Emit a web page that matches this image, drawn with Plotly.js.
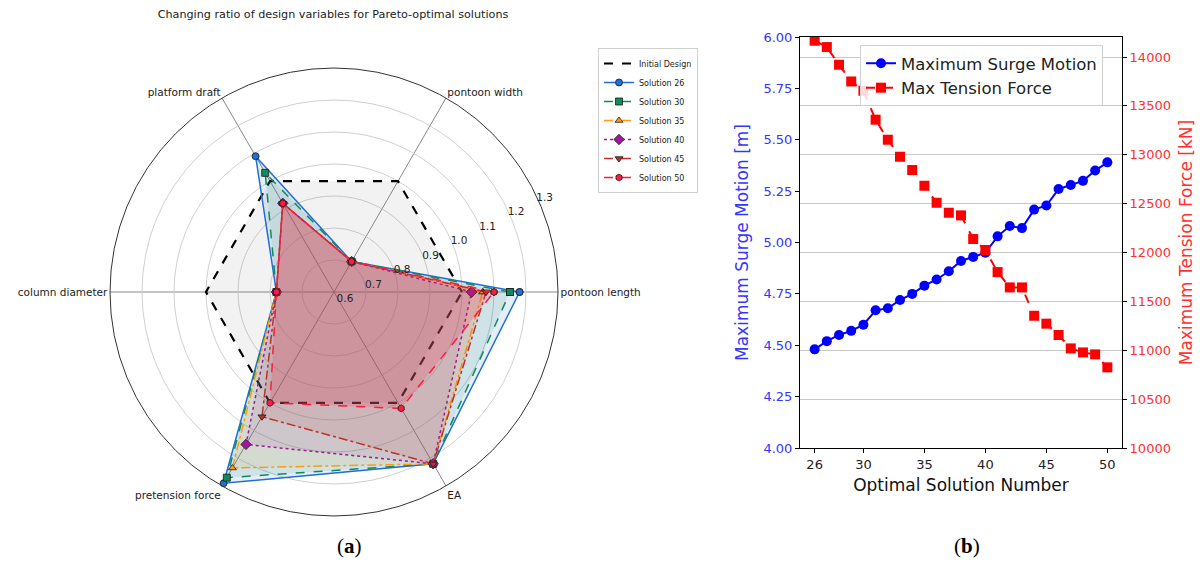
<!DOCTYPE html>
<html>
<head>
<meta charset="utf-8">
<script src="https://cdn.plot.ly/plotly-3.0.1.min.js"></script>
<style>
  html, body { margin: 0; padding: 0; background: #ffffff; }
  #chart { width: 1202px; height: 562px; }
</style>
</head>
<body>
<div id="chart"></div>
<script>
// ---- (a) design-variable ratios for the Pareto-optimal solutions ----
const variables = ['pontoon length', 'pontoon width', 'platform draft',
                   'column diameter', 'pretension force', 'EA'];
const radialTicks = [0.6, 0.7, 0.8, 0.9, 1.0, 1.1, 1.2, 1.3];

const initialDesign = [1.00, 1.00, 1.00, 1.00, 1.00, 1.00];
const solution26    = [1.18, 0.71, 1.09, 0.78, 1.29, 1.22];
const solution30    = [1.15, 0.71, 1.03, 0.78, 1.27, 1.22];
const solution35    = [1.065, 0.71, 0.92, 0.78, 1.235, 1.22];
const solution40    = [1.03, 0.71, 0.92, 0.78, 1.15, 1.22];
const solution45    = [1.075, 0.71, 0.92, 0.78, 1.05, 1.22];
const solution50    = [1.10, 0.71, 0.92, 0.78, 1.00, 1.02];

// ---- (b) surge motion and tension force per optimal solution ----
const solutionNumbers = [26, 27, 28, 29, 30, 31, 32, 33, 34, 35, 36, 37, 38,
                         39, 40, 41, 42, 43, 44, 45, 46, 47, 48, 49, 50];
const surgeMotion = [4.48, 4.52, 4.55, 4.57, 4.60, 4.67, 4.68, 4.72, 4.75, 4.79,
                     4.82, 4.86, 4.91, 4.93, 4.95, 5.03, 5.08, 5.07, 5.16, 5.18,
                     5.26, 5.28, 5.30, 5.35, 5.39];
const tensionForce = [14167, 14102, 13921, 13750, 13655, 13359, 13154, 12980, 12844,
                      12683, 12509, 12407, 12380, 12138, 12026, 11800, 11643, 11643,
                      11353, 11272, 11156, 11019, 10978, 10958, 10825];
const surgeTicks = [4.00, 4.25, 4.50, 4.75, 5.00, 5.25, 5.50, 5.75, 6.00];
const tensionTicks = [10000, 10500, 11000, 11500, 12000, 12500, 13000, 13500, 14000];
const numberTicks = [26, 30, 35, 40, 45, 50];

const FONT = 'DejaVu Sans, sans-serif';

function closeLoop(arr) { return arr.concat([arr[0]]); }

// Each series is drawn as a translucent filled polygon plus its outline with markers;
// only the outline goes into the legend.
function radarSeries(name, values, color, fill, dash, symbol, size) {
  const area = {
    type: 'scatterpolar',
    name: name,
    r: closeLoop(values),
    theta: closeLoop(variables),
    mode: 'none',
    fill: 'toself',
    fillcolor: fill,
    showlegend: false,
    hoverinfo: 'skip'
  };
  const outline = {
    type: 'scatterpolar',
    name: name,
    r: closeLoop(values),
    theta: closeLoop(variables),
    mode: symbol ? 'lines+markers' : 'lines',
    line: { color: color, width: symbol ? 1.5 : 2.2, dash: dash },
    legend: 'legend',
    hoverinfo: 'name+r+theta'
  };
  if (symbol) {
    outline.marker = { symbol: symbol, size: size, color: color,
                       line: { color: '#1a1a1a', width: 0.8 } };
  }
  return [area, outline];
}

const traces = [].concat(
  radarSeries('Initial Design', initialDesign, '#000000', 'rgba(128,128,128,0.10)', 'dash', null, 0),
  radarSeries('Solution 26', solution26, '#1f6fd6', 'rgba(31,119,200,0.12)', 'solid', 'circle', 7),
  radarSeries('Solution 30', solution30, '#12895a', 'rgba(18,137,90,0.10)', 'dash', 'square', 7),
  radarSeries('Solution 35', solution35, '#ff9a10', 'rgba(255,154,16,0.10)', 'dashdot', 'triangle-up', 7),
  radarSeries('Solution 40', solution40, '#a0189a', 'rgba(160,24,154,0.10)', 'dot', 'diamond', 8),
  radarSeries('Solution 45', solution45, '#c0302a', 'rgba(192,48,42,0.10)', 'dashdot', 'triangle-down', 7),
  radarSeries('Solution 50', solution50, '#ff1a40', 'rgba(255,26,64,0.18)', 'dash', 'hexagon', 7),
  [
    {
      type: 'scatter',
      name: 'Maximum Surge Motion',
      x: solutionNumbers,
      y: surgeMotion,
      xaxis: 'x', yaxis: 'y',
      mode: 'lines+markers',
      line: { color: '#0000ff', width: 2 },
      marker: { symbol: 'circle', size: 10, color: '#0000ff' },
      legend: 'legend2'
    },
    {
      type: 'scatter',
      name: 'Max Tension Force',
      x: solutionNumbers,
      y: tensionForce,
      xaxis: 'x', yaxis: 'y2',
      mode: 'lines+markers',
      line: { color: '#ff0000', width: 2, dash: 'dash' },
      marker: { symbol: 'square', size: 10, color: '#ff0000' },
      legend: 'legend2'
    }
  ]
);

const layout = {
  width: 1202,
  height: 562,
  margin: { l: 0, r: 0, t: 0, b: 0 },
  paper_bgcolor: '#ffffff',
  plot_bgcolor: '#ffffff',
  font: { family: FONT, color: '#222222', size: 11 },
  showlegend: true,
  title: {
    text: 'Changing ratio of design variables for Pareto-optimal solutions',
    x: 333 / 1202, xanchor: 'center',
    y: 1 - 14 / 562, yanchor: 'middle',
    font: { family: FONT, size: 11.2, color: '#222222' }
  },
  polar: {
    domain: { x: [110 / 1202, 558 / 1202], y: [1 - 516 / 562, 1 - 68 / 562] },
    bgcolor: '#ffffff',
    radialaxis: {
      range: [0.6, 1.3],
      tickvals: radialTicks,
      ticktext: radialTicks.map(v => v.toFixed(1)),
      angle: 27,
      side: 'clockwise',
      tickangle: 27,
      showline: false,
      ticks: '',
      gridcolor: '#d0d0d0',
      gridwidth: 1,
      tickfont: { family: FONT, size: 10.5, color: '#222222' }
    },
    angularaxis: {
      rotation: 0,
      direction: 'counterclockwise',
      categoryorder: 'array',
      categoryarray: variables,
      gridcolor: '#6a6a6a',
      gridwidth: 0.8,
      linecolor: '#333333',
      linewidth: 1,
      ticks: '',
      tickfont: { family: FONT, size: 10.5, color: '#222222' }
    }
  },
  legend: {
    x: 598 / 1202, y: 1 - 48 / 562,
    xanchor: 'left', yanchor: 'top',
    bgcolor: '#ffffff',
    bordercolor: '#d0d0d0',
    borderwidth: 1,
    font: { family: FONT, size: 8, color: '#222222' },
    tracegroupgap: 0
  },
  legend2: {
    x: 860 / 1202, y: 1 - 45 / 562,
    xanchor: 'left', yanchor: 'top',
    bgcolor: 'rgba(255,255,255,0.85)',
    bordercolor: '#d0d0d0',
    borderwidth: 1,
    font: { family: FONT, size: 16.5, color: '#222222' }
  },
  xaxis: {
    domain: [800 / 1202, 1122 / 1202],
    anchor: 'y',
    range: [24.8, 51.2],
    tickvals: numberTicks,
    showgrid: false,
    zeroline: false,
    showline: true,
    linecolor: '#000000',
    linewidth: 1,
    mirror: true,
    ticks: 'outside',
    ticklen: 4,
    tickcolor: '#000000',
    tickfont: { family: FONT, size: 13, color: '#222222' },
    title: { text: 'Optimal Solution Number', standoff: 8,
             font: { family: FONT, size: 17, color: '#111111' } }
  },
  yaxis: {
    domain: [1 - 448 / 562, 1 - 37 / 562],
    anchor: 'x',
    range: [4, 6],
    tickvals: surgeTicks,
    tickformat: '.2f',
    showgrid: false,
    zeroline: false,
    showline: true,
    linecolor: '#000000',
    linewidth: 1,
    ticks: 'outside',
    ticklen: 4,
    tickcolor: '#000000',
    tickfont: { family: FONT, size: 13, color: '#3535ff' },
    title: { text: 'Maximum Surge Motion [m]', standoff: 10,
             font: { family: FONT, size: 17, color: '#3535ff' } }
  },
  yaxis2: {
    overlaying: 'y',
    side: 'right',
    anchor: 'x',
    range: [10000, 14205],
    tickvals: tensionTicks,
    tickformat: 'd',
    showgrid: true,
    gridcolor: '#c8c8c8',
    gridwidth: 1,
    zeroline: false,
    showline: true,
    linecolor: '#000000',
    linewidth: 1,
    ticks: 'outside',
    ticklen: 4,
    tickcolor: '#000000',
    tickfont: { family: FONT, size: 13, color: '#ff3030' },
    title: { text: 'Maximum Tension Force [kN]', standoff: 10,
             font: { family: FONT, size: 17, color: '#ff3030' } }
  },
  annotations: [
    { text: '(<b>a</b>)', x: 349 / 1202, y: 1 - 546 / 562, xref: 'paper', yref: 'paper',
      xanchor: 'center', yanchor: 'middle', showarrow: false,
      font: { family: 'Liberation Serif, serif', size: 21, color: '#000000' } },
    { text: '(<b>b</b>)', x: 967 / 1202, y: 1 - 546 / 562, xref: 'paper', yref: 'paper',
      xanchor: 'center', yanchor: 'middle', showarrow: false,
      font: { family: 'Liberation Serif, serif', size: 21, color: '#000000' } }
  ]
};

Plotly.newPlot('chart', traces, layout, { displayModeBar: false, staticPlot: true });
</script>
</body>
</html>
